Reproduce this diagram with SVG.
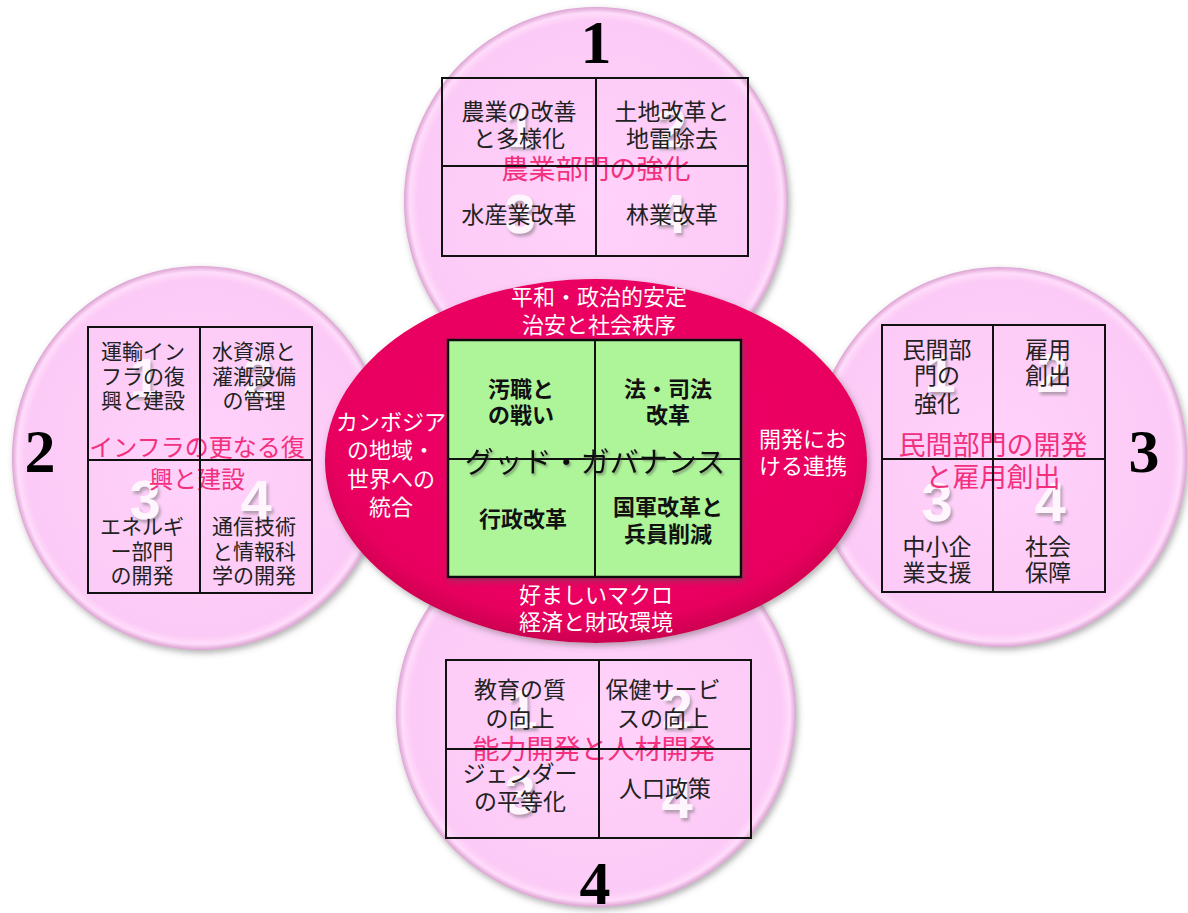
<svg xmlns="http://www.w3.org/2000/svg" width="1188" height="913" viewBox="0 0 1188 913">
<defs>
<radialGradient id="pinkG" cx="50%" cy="50%" r="50%">
<stop offset="0%" stop-color="#FFD2FB"/>
<stop offset="93%" stop-color="#FCCAF6"/>
<stop offset="97%" stop-color="#FFDCFB"/>
<stop offset="100%" stop-color="#DCA2D2"/>
</radialGradient>
<radialGradient id="redG" cx="50%" cy="45%" r="55%">
<stop offset="0%" stop-color="#F2006A"/>
<stop offset="88%" stop-color="#E8005F"/>
<stop offset="100%" stop-color="#CC0050"/>
</radialGradient>
<filter id="sh" x="-10%" y="-10%" width="120%" height="120%">
<feDropShadow dx="2" dy="3" stdDeviation="3" flood-color="#555" flood-opacity="0.45"/>
</filter>
<filter id="dsh" x="-20%" y="-20%" width="140%" height="140%">
<feDropShadow dx="2" dy="3" stdDeviation="1.5" flood-color="#666" flood-opacity="0.6"/>
</filter>
<filter id="tsh" x="-10%" y="-20%" width="120%" height="140%">
<feDropShadow dx="1.5" dy="2" stdDeviation="1.2" flood-color="#444" flood-opacity="0.5"/>
</filter>
</defs>
<style>
.circ{fill:url(#pinkG);filter:url(#sh)}
.grid{fill:none;stroke:#111;stroke-width:2}
.cell{font-family:"Noto Sans CJK JP","Noto Sans CJK SC",sans-serif;font-size:23px;fill:#222;text-anchor:middle;dominant-baseline:central}
.cellS{font-size:21px}
.title{font-family:"Noto Sans CJK JP","Noto Sans CJK SC",sans-serif;font-size:27px;fill:#F2307E;text-anchor:middle;dominant-baseline:central}
.wm{font-family:"Liberation Sans",Arial,sans-serif;font-weight:bold;font-size:56px;fill:#FFFFFF;opacity:0.8;text-anchor:middle;filter:url(#dsh)}
.num{font-family:"Liberation Serif","Times New Roman",serif;font-weight:bold;font-size:62px;fill:#000;text-anchor:middle}
.wt{font-family:"Noto Sans CJK JP","Noto Sans CJK SC",sans-serif;font-size:22px;fill:#FFFFFF;text-anchor:middle;dominant-baseline:central}
.gt{font-family:"Noto Sans CJK JP","Noto Sans CJK SC",sans-serif;font-size:22px;font-weight:bold;fill:#111;text-anchor:middle;dominant-baseline:central}
.gg{font-family:"Noto Sans CJK JP","Noto Sans CJK SC",sans-serif;font-size:29px;fill:#111;text-anchor:middle;dominant-baseline:central;filter:url(#tsh)}
</style>
<rect width="1188" height="913" fill="#FFFFFF"/>

<g id="node-1">
<ellipse class="circ" cx="596" cy="201" rx="192" ry="194"/>
<text class="num" x="596" y="63">1</text>
<text class="wm" x="520" y="147">1</text>
<text class="wm" x="671" y="147">2</text>
<text class="wm" x="520" y="233">3</text>
<text class="wm" x="671" y="233">4</text>
<text class="cell" x="519" y="110">農業の改善</text>
<text class="cell" x="519" y="137">と多様化</text>
<text class="cell" x="672" y="110">土地改革と</text>
<text class="cell" x="672" y="137">地雷除去</text>
<text class="cell" x="519" y="213">水産業改革</text>
<text class="cell" x="672" y="213">林業改革</text>
<text class="title" x="596" y="167">農業部門の強化</text>
<rect class="grid" x="442" y="78" width="306" height="178"/>
<line class="grid" x1="596" y1="78" x2="596" y2="256"/>
<line class="grid" x1="442" y1="166" x2="748" y2="166"/>
</g>

<g id="node-2">
<ellipse class="circ" cx="200" cy="458" rx="188" ry="192"/>
<text class="num" x="40" y="472">2</text>
<text class="wm" x="145" y="397">1</text>
<text class="wm" x="258" y="397">2</text>
<text class="wm" x="145" y="519">3</text>
<text class="wm" x="256" y="519">4</text>
<text class="cell cellS" x="143" y="350">運輸イン</text>
<text class="cell cellS" x="143" y="375">フラの復</text>
<text class="cell cellS" x="143" y="399">興と建設</text>
<text class="cell cellS" x="254" y="350">水資源と</text>
<text class="cell cellS" x="254" y="375">灌漑設備</text>
<text class="cell cellS" x="254" y="399">の管理</text>
<text class="cell cellS" x="142" y="525">エネルギ</text>
<text class="cell cellS" x="142" y="550">ー部門</text>
<text class="cell cellS" x="142" y="574">の開発</text>
<text class="cell cellS" x="254" y="525">通信技術</text>
<text class="cell cellS" x="254" y="550">と情報科</text>
<text class="cell cellS" x="254" y="574">学の開発</text>
<text class="title" x="197" y="445" style="font-size:24px">インフラの更なる復</text>
<text class="title" x="197" y="477" style="font-size:24px">興と建設</text>
<rect class="grid" x="88" y="327" width="224" height="266"/>
<line class="grid" x1="200" y1="327" x2="200" y2="593"/>
<line class="grid" x1="88" y1="460" x2="312" y2="460"/>
</g>

<g id="node-3">
<ellipse class="circ" cx="1000" cy="457" rx="187" ry="190"/>
<text class="num" x="1144" y="472">3</text>
<text class="wm" x="940" y="392">1</text>
<text class="wm" x="1052" y="392">2</text>
<text class="wm" x="937" y="521">3</text>
<text class="wm" x="1050" y="521">4</text>
<text class="cell" x="937" y="348">民間部</text>
<text class="cell" x="937" y="374">門の</text>
<text class="cell" x="937" y="402">強化</text>
<text class="cell" x="1048" y="348">雇用</text>
<text class="cell" x="1048" y="374">創出</text>
<text class="cell" x="937" y="545">中小企</text>
<text class="cell" x="937" y="571">業支援</text>
<text class="cell" x="1048" y="545">社会</text>
<text class="cell" x="1048" y="571">保障</text>
<text class="title" x="993" y="443">民間部門の開発</text>
<text class="title" x="993" y="475">と雇用創出</text>
<rect class="grid" x="882" y="325" width="223" height="267"/>
<line class="grid" x1="993" y1="325" x2="993" y2="592"/>
<line class="grid" x1="882" y1="459" x2="1105" y2="459"/>
</g>

<g id="node-4">
<ellipse class="circ" cx="596" cy="713" rx="200" ry="194"/>
<text class="num" x="595" y="904">4</text>
<text class="wm" x="522" y="728">1</text>
<text class="wm" x="677" y="728">2</text>
<text class="wm" x="520" y="814">3</text>
<text class="wm" x="677" y="818">4</text>
<text class="cell" x="520" y="688">教育の質</text>
<text class="cell" x="520" y="717">の向上</text>
<text class="cell" x="663" y="688">保健サービ</text>
<text class="cell" x="663" y="717">スの向上</text>
<text class="cell" x="520" y="772">ジェンダー</text>
<text class="cell" x="520" y="800">の平等化</text>
<text class="cell" x="665" y="787">人口政策</text>
<text class="title" x="594" y="747">能力開発と人材開発</text>
<rect class="grid" x="446" y="660" width="305" height="178"/>
<line class="grid" x1="599" y1="660" x2="599" y2="838"/>
<line class="grid" x1="446" y1="749" x2="751" y2="749"/>
</g>

<g id="node-center">
<ellipse cx="596" cy="461" rx="271" ry="182" fill="url(#redG)" filter="url(#sh)"/>
<text class="wt" x="599" y="295">平和・政治的安定</text>
<text class="wt" x="599" y="323">治安と社会秩序</text>
<text class="wt" x="391" y="420">カンボジア</text>
<text class="wt" x="391" y="448">の地域・</text>
<text class="wt" x="391" y="477">世界への</text>
<text class="wt" x="391" y="505">統合</text>
<text class="wt" x="803" y="437">開発にお</text>
<text class="wt" x="803" y="464">ける連携</text>
<text class="wt" x="596" y="593">好ましいマクロ</text>
<text class="wt" x="596" y="620">経済と財政環境</text>
<rect x="448" y="340" width="293" height="237" fill="#AEF59A" stroke="#111" stroke-width="2.5" filter="url(#sh)"/>
<line x1="595" y1="340" x2="595" y2="577" stroke="#111" stroke-width="2"/>
<line x1="448" y1="459" x2="741" y2="459" stroke="#111" stroke-width="2"/>
<text class="gt" x="521" y="387">汚職と</text>
<text class="gt" x="521" y="413">の戦い</text>
<text class="gt" x="668" y="387">法・司法</text>
<text class="gt" x="668" y="413">改革</text>
<text class="gt" x="523" y="517">行政改革</text>
<text class="gt" x="668" y="505">国軍改革と</text>
<text class="gt" x="668" y="532">兵員削減</text>
<text class="gg" x="595" y="460">グッド・ガバナンス</text>
</g>

<g id="connectors"></g>
</svg>
